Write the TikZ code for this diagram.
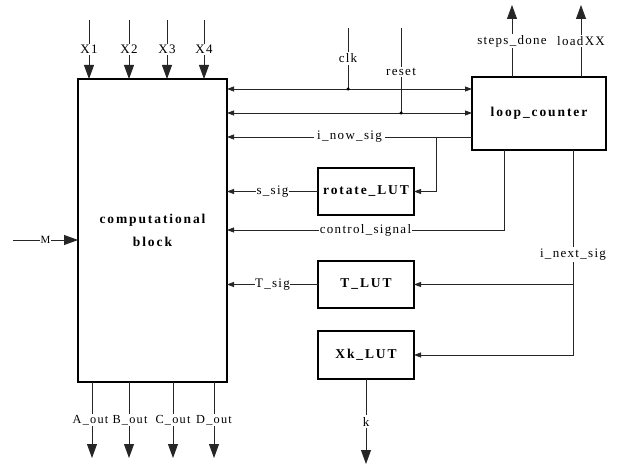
\documentclass[tikz,border=0pt]{standalone}
\usepackage{fontspec}
\setmainfont{Liberation Serif}
\newfontfamily\lblfont[LetterSpace=10]{Liberation Serif}
\newfontfamily\blkfont[LetterSpace=14]{Liberation Serif}
\usetikzlibrary{arrows.meta}
\tikzset{
  wire/.style={draw=black!85, line width=0.8pt},
  bigtip/.style={-{Triangle[length=14pt,width=10pt]}},
  smalltip/.style={-{Triangle[length=7pt,width=5pt]}},
  bothtips/.style={{Triangle[length=7pt,width=5pt]}-{Triangle[length=7pt,width=5pt]}},
  lbl/.style={fill=white, inner xsep=1pt, inner ysep=1.5pt, font=\lblfont\fontsize{13}{13}\selectfont},
  outlbl/.style={lbl, inner xsep=0pt, font=\lblfont\fontsize{12.3}{13}\selectfont},
  blk/.style={draw=black, line width=1.3pt, outer sep=0pt, align=center,
    font=\blkfont\bfseries\fontsize{13.5}{23}\selectfont},
  junction/.style={circle, fill=black, inner sep=0pt, minimum size=3.5pt}
}
\begin{document}
\begin{tikzpicture}[x=1pt,y=-1pt]
\useasboundingbox (0,0) rectangle (618,465);
% blocks
\node[blk, minimum width=149pt, minimum height=303pt] (comp) at (152.5,230.5) {computational\\block};
\node[blk, minimum width=134pt, minimum height=73pt] (lc) at (539,113.5) {loop\_counter};
\node[blk, minimum width=96pt, minimum height=47pt] (rot) at (366,191.5) {rotate\_LUT};
\node[blk, minimum width=96pt, minimum height=47pt] (tlut) at (366,284.5) {T\_LUT};
\node[blk, minimum width=96pt, minimum height=48pt] (xk) at (366,355) {Xk\_LUT};
% inputs X
\foreach \xx/\nm in {89/X1,129/X2,167/X3,204/X4}{
  \coordinate (in\nm) at (\xx,20);
  \draw[wire,bigtip] (in\nm) -- node[lbl]{\nm} (in\nm |- comp.north);
}
% outputs
\foreach \xx/\nm/\sh in {92/A/-1.5,129/B/1,173/C/0,214/D/0}{
  \coordinate (out\nm) at (\xx,458);
  \draw[wire,bigtip] (out\nm |- comp.south) -- node[outlbl, xshift=\sh pt]{\nm\_out} (out\nm);
}
% M input
\coordinate (inM) at (13,240);
\draw[wire,bigtip] (inM) -- node[lbl, inner xsep=0.5pt, font=\lblfont\fontsize{11}{11}\selectfont]{M} (inM -| comp.west);
% loop counter outputs
\coordinate (sd) at (512,5);
\coordinate (lx) at (581,5);
\draw[wire,bigtip] (sd |- lc.north) -- node[lbl]{steps\_done} (sd);
\draw[wire,bigtip] (lx |- lc.north) -- node[lbl]{loadXX} (lx);
% clk and reset
\coordinate (clktop) at (348,28);
\coordinate (clkdot) at (348,89);
\coordinate (rsttop) at (401,28);
\coordinate (rstdot) at (401,113);
\draw[wire] (clktop) -- node[lbl]{clk} (clkdot);
\draw[wire] (rsttop) -- node[lbl, pos=0.52]{reset} (rstdot);
\draw[wire,bothtips] (clkdot -| comp.east) -- (clkdot -| lc.west);
\draw[wire,bothtips] (rstdot -| comp.east) -- (rstdot -| lc.west);
\node[junction] (clkj) at (clkdot) {};
\node[junction] (rstj) at (rstdot) {};
% i_now_sig
\coordinate (inow) at (436,137);
\draw[wire,smalltip] (inow -| lc.west) -- node[lbl, inner xsep=3pt]{i\_now\_sig} (inow -| comp.east);
\draw[wire,smalltip] (inow) |- (rot.east);
% s_sig
\draw[wire,smalltip] (rot.west) -- node[lbl, inner xsep=0.5pt]{s\_sig} (rot.west -| comp.east);
% control_signal
\coordinate (cs) at (504,230);
\draw[wire,smalltip] (cs |- lc.south) -- (cs) -- node[lbl, inner xsep=0.5pt]{control\_signal} (cs -| comp.east);
% i_next_sig
\coordinate (ins) at (573,355);
\draw[wire,smalltip] (ins |- lc.south) -- node[lbl, pos=0.51]{i\_next\_sig} (ins) -- (ins -| xk.east);
\draw[wire,smalltip] (ins |- tlut.east) -- (tlut.east);
% T_sig
\draw[wire,smalltip] (tlut.west) -- node[lbl, inner xsep=0.5pt]{T\_sig} (tlut.west -| comp.east);
% k
\coordinate (kout) at (366,464);
\draw[wire,bigtip] (xk.south) -- node[lbl]{k} (kout);
\end{tikzpicture}
\end{document}
